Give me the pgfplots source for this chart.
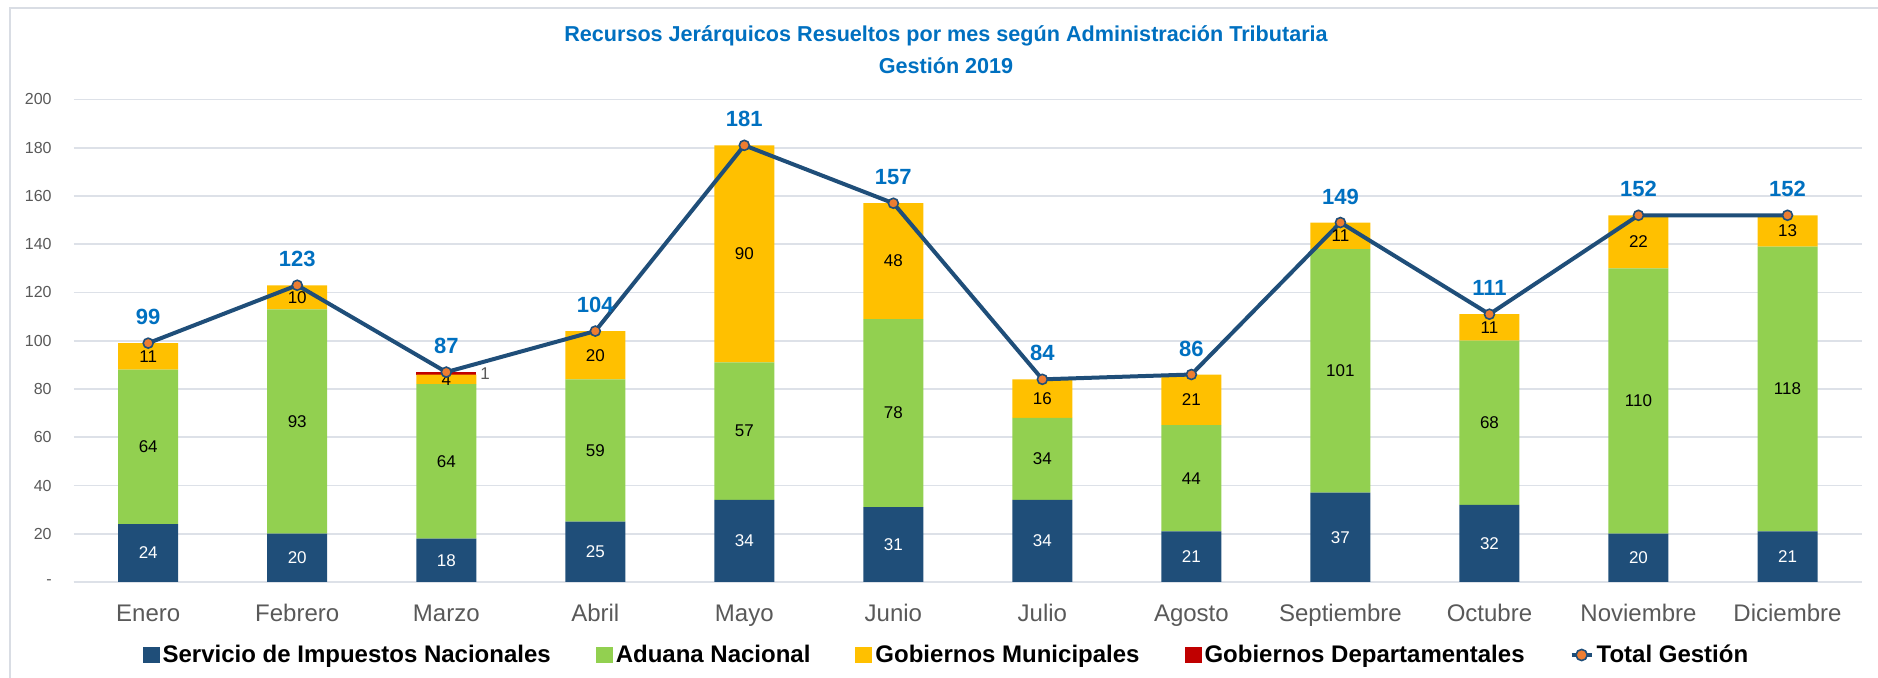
\documentclass[border=0pt]{standalone}
\usepackage{pgfplots}
\pgfplotsset{compat=1.18}
\usepackage{fontspec}
\setmainfont{Liberation Sans}
\definecolor{sinblue}{HTML}{1F4E79}
\definecolor{adgreen}{HTML}{92D050}
\definecolor{gmyellow}{HTML}{FFC000}
\definecolor{gdred}{HTML}{C00000}
\definecolor{lineblue}{HTML}{1F4E79}
\definecolor{mkorange}{HTML}{ED7D31}
\definecolor{titleblue}{HTML}{0070C0}
\definecolor{tickgray}{HTML}{595959}
\definecolor{gridgray}{HTML}{DDE1E8}
\definecolor{bordergray}{HTML}{D9DDE4}
\pgfplotsset{
  common/.style={
    width=894.15pt, height=241.25pt, scale only axis,
    at={(36.85pt,48pt)}, anchor=south west,
    xmin=-0.5, xmax=11.5, ymin=0, ymax=200,
  }
}
\begin{document}
\begin{tikzpicture}
\path[use as bounding box] (0,0) rectangle (939pt,339pt);
\draw[bordergray, line width=0.7pt] (5pt,0pt) -- (5pt,335pt) -- (939pt,335pt);
\node[font=\bfseries\fontsize{10.8}{12}\selectfont, text=titleblue] at (473pt,321pt) {Recursos Jerárquicos Resueltos por mes según Administración Tributaria};
\node[font=\bfseries\fontsize{10.8}{12}\selectfont, text=titleblue] at (473pt,306pt) {Gestión 2019};
\begin{axis}[common,
  ybar stacked, bar width=30pt,
  axis line style={draw=none},
  axis x line*=bottom,
  x axis line style={draw=gridgray, line width=0.8pt},
  axis y line*=left,
  y axis line style={draw=none},
  ymajorgrids, grid style={gridgray, line width=0.8pt},
  major tick length=0pt,
  xtick={0,...,11},
  xticklabels={Enero,Febrero,Marzo,Abril,Mayo,Junio,Julio,Agosto,Septiembre,Octubre,Noviembre,Diciembre},
  xticklabel style={anchor=base, yshift=-19.8pt, font=\fontsize{12}{14}\selectfont, text=tickgray},
  ytick={0,20,...,200},
  yticklabels={-,20,40,60,80,100,120,140,160,180,200},
  yticklabel style={anchor=east, xshift=-7.5pt, font=\fontsize{8}{10}\selectfont, text=tickgray},
  legend columns=5,
  legend style={at={(0.4883,-0.1513)}, anchor=center, draw=none, fill=none,
    font=\bfseries\fontsize{12}{14}\selectfont,
    nodes={inner xsep=1.5pt},
    /tikz/every even column/.append style={column sep=21pt}},
  legend image code/.code={\fill (0pt,-4pt) rectangle (8.5pt,4pt);},
]
\addplot[fill=sinblue, draw=none] coordinates {(0,24) (1,20) (2,18) (3,25) (4,34) (5,31) (6,34) (7,21) (8,37) (9,32) (10,20) (11,21)};
\addlegendentry{Servicio de Impuestos Nacionales}
\addplot[fill=adgreen, draw=none] coordinates {(0,64) (1,93) (2,64) (3,59) (4,57) (5,78) (6,34) (7,44) (8,101) (9,68) (10,110) (11,118)};
\addlegendentry{Aduana Nacional}
\addplot[fill=gmyellow, draw=none] coordinates {(0,11) (1,10) (2,4) (3,20) (4,90) (5,48) (6,16) (7,21) (8,11) (9,11) (10,22) (11,13)};
\addlegendentry{Gobiernos Municipales}
\addplot[fill=gdred, draw=none] coordinates {(0,0) (1,0) (2,1) (3,0) (4,0) (5,0) (6,0) (7,0) (8,0) (9,0) (10,0) (11,0)};
\addlegendentry{Gobiernos Departamentales}
\addlegendimage{legend image code/.code={\draw[line width=2pt,color=lineblue] (0pt,0pt)--(10pt,0pt); \draw[fill=mkorange,draw=lineblue,line width=0.8pt] (5pt,0pt) circle (2.8pt);}}
\addlegendentry{Total Gestión}
\end{axis}
\begin{axis}[common, axis lines=none, ticks=none, clip=false]
% segment labels
\addplot[only marks, mark=none, nodes near coords, point meta=explicit symbolic,
  every node near coord/.append style={anchor=center, font=\fontsize{8.5}{10}\selectfont, text=white}]
  table[meta=l] {
x y l
0 12 24
1 10 20
2 9 18
3 12.5 25
4 17 34
5 15.5 31
6 17 34
7 10.5 21
8 18.5 37
9 16 32
10 10 20
11 10.5 21
};
\addplot[only marks, mark=none, nodes near coords, point meta=explicit symbolic,
  every node near coord/.append style={anchor=center, font=\fontsize{8.5}{10}\selectfont, text=black}]
  table[meta=l] {
x y l
0 56 64
1 66.5 93
2 50 64
3 54.5 59
4 62.5 57
5 70 78
6 51 34
7 43 44
8 87.5 101
9 66 68
10 75 110
11 80 118
};
\addplot[only marks, mark=none, nodes near coords, point meta=explicit symbolic,
  every node near coord/.append style={anchor=center, font=\fontsize{8.5}{10}\selectfont, text=black}]
  table[meta=l] {
x y l
0 93.5 11
1 118 10
2 84 4
3 94 20
4 136 90
5 133 48
6 76 16
7 75.5 21
8 143.5 11
9 105.5 11
10 141 22
11 145.5 13
};
\addplot[only marks, mark=none, nodes near coords, point meta=explicit symbolic,
  every node near coord/.append style={anchor=center, font=\fontsize{8.5}{10}\selectfont, text=tickgray}]
  table[meta=l] {
x y l
2.26 86.5 1
};
% total line
\addplot[lineblue, line width=2pt, mark=*, mark size=2.5pt,
  mark options={fill=mkorange, draw=lineblue, line width=0.8pt},
  nodes near coords, point meta=explicit symbolic,
  every node near coord/.append style={anchor=center, yshift=13pt, font=\bfseries\fontsize{11}{12}\selectfont, text=titleblue}]
  table[meta=l] {
x y l
0 99 99
1 123 123
2 87 87
3 104 104
4 181 181
5 157 157
6 84 84
7 86 86
8 149 149
9 111 111
10 152 152
11 152 152
};
\end{axis}
\end{tikzpicture}
\end{document}
